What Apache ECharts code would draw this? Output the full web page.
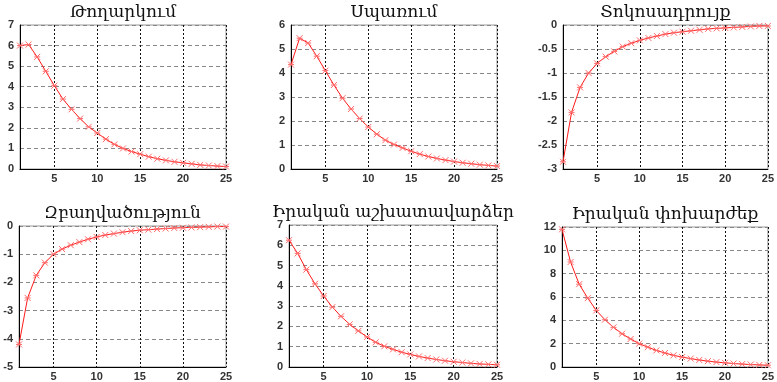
<!DOCTYPE html>
<html><head><meta charset="utf-8">
<script src="https://cdn.jsdelivr.net/npm/echarts@6/dist/echarts.min.js"></script>
<style>html,body{margin:0;padding:0;background:#fff}#c{width:777px;height:382px}</style>
</head><body><div id="c"></div>
<script>
const periods = Array.from({length:25},(_,i)=>i+1);
const xTicks = [5,10,15,20,25];
const titles = ["Թողարկում","Սպառում","Տոկոսադրույք","Զբաղվածություն","Իրական աշխատավարձեր","Իրական փոխարժեք"];
const output = [6.0,6.05,5.45,4.75,4.05,3.4,2.9,2.45,2.05,1.75,1.45,1.2,1.0,0.85,0.72,0.6,0.5,0.42,0.35,0.3,0.25,0.2,0.17,0.14,0.12];
const consumption = [4.35,5.45,5.25,4.7,4.1,3.5,2.95,2.5,2.1,1.75,1.45,1.2,1.02,0.88,0.74,0.62,0.52,0.44,0.37,0.31,0.26,0.22,0.18,0.15,0.12];
const interest = [-2.85,-1.82,-1.3,-1.0,-0.8,-0.66,-0.55,-0.45,-0.38,-0.32,-0.27,-0.23,-0.19,-0.16,-0.14,-0.12,-0.1,-0.08,-0.07,-0.06,-0.05,-0.04,-0.03,-0.02,-0.02];
const employment = [-4.2,-2.55,-1.75,-1.3,-1.0,-0.82,-0.68,-0.57,-0.47,-0.39,-0.32,-0.27,-0.22,-0.18,-0.15,-0.13,-0.11,-0.09,-0.07,-0.06,-0.05,-0.04,-0.03,-0.02,-0.02];
const realWages = [6.25,5.6,4.8,4.1,3.5,2.95,2.5,2.1,1.78,1.48,1.22,1.02,0.87,0.73,0.62,0.52,0.44,0.37,0.31,0.26,0.22,0.18,0.15,0.13,0.11];
const exchangeRate = [11.8,9.0,7.1,5.9,4.85,4.05,3.4,2.85,2.4,2.0,1.7,1.42,1.2,1.0,0.85,0.72,0.6,0.5,0.42,0.36,0.3,0.25,0.21,0.18,0.15];
const yRanges = [[0,7,1],[0,6,1],[-3,0,0.5],[-5,0,1],[0,7,1],[0,12,2]];
const allSeries = [output,consumption,interest,employment,realWages,exchangeRate];

const grids = [
  {left:20,top:25,width:206,height:144},
  {left:291,top:25,width:206,height:144},
  {left:563,top:25,width:205,height:144},
  {left:19,top:226,width:207,height:144},
  {left:289,top:225,width:208,height:144},
  {left:562,top:227,width:206,height:143}
];
const titleFont = {fontFamily:'DejaVu Serif',fontSize:17,fontWeight:'normal',color:'#111'};
const labelFont = {fontFamily:'Liberation Sans',fontSize:11,fontWeight:'bold',color:'#333'};

const option = {
  animation:false,
  backgroundColor:'#fff',
  title: grids.map((g,i)=>({text:titles[i],left:g.left+g.width/2,top:g.top-21,textAlign:'center',textStyle:titleFont,padding:0})),
  grid: grids.map(g=>Object.assign({show:true,borderColor:'#999',borderWidth:1,backgroundColor:'transparent'},g)),
  xAxis: grids.map((g,i)=>({
    type:'value',gridIndex:i,min:1,max:25,position:'bottom',
    axisLine:{onZero:false,lineStyle:{color:'#000',width:1}},
    axisTick:{show:false,customValues:xTicks},
    axisLabel:Object.assign({customValues:xTicks,margin:4},labelFont),
    splitLine:{show:true,lineStyle:{color:'#111',type:[2,2],width:1}}
  })),
  yAxis: grids.map((g,i)=>({
    type:'value',gridIndex:i,min:yRanges[i][0],max:yRanges[i][1],interval:yRanges[i][2],
    axisLine:{show:true,onZero:false,lineStyle:{color:'#000',width:1}},
    axisTick:{show:false},
    axisLabel:Object.assign({margin:6},labelFont),
    splitLine:{show:true,lineStyle:{color:'#888',type:[4,3],width:1}}
  })),
  series: allSeries.map((d,i)=>({
    type:'line',xAxisIndex:i,yAxisIndex:i,
    data:periods.map((p,k)=>[p,d[k]]),
    symbol:'path://M0 0L10 10M10 0L0 10M0 5L10 5',symbolSize:6,showAllSymbol:true,
    itemStyle:{color:'none',borderColor:'#ff6a6a',borderWidth:1},
    lineStyle:{color:'#ff1a1a',width:1},
    clip:false
  }))
};
const chart = echarts.init(document.getElementById('c'),null,{renderer:'canvas'});
chart.setOption(option);
</script></body></html>
